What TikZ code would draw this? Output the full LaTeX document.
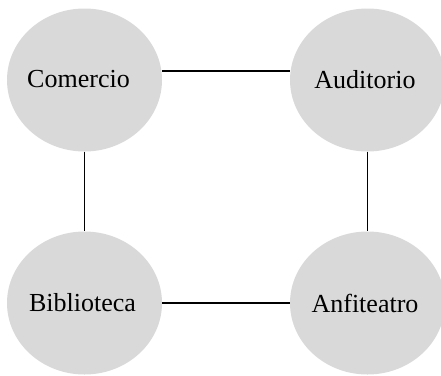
\documentclass[tikz,border=0pt]{standalone}
\usepackage{fontspec}
\setmainfont{Liberation Serif}
\usetikzlibrary{shapes.geometric}
\definecolor{place}{HTML}{D9D9D9}
\tikzset{
  pl/.style={ellipse,fill=place,minimum width=155pt,minimum height=143pt,inner sep=0pt,font=\fontsize{26}{30}\selectfont},
  ln/.style={line width=1.6pt},
}
\begin{document}
\begin{tikzpicture}[x=1pt,y=-1pt]
\useasboundingbox (0,0) rectangle (441,375);
\node[pl] (com) at (84.5,80) {\hspace*{-12pt}\raisebox{2pt}{Comercio}};
\node[pl] (aud) at (367.5,80) {\hspace*{-5pt}\raisebox{2pt}{Auditorio}};
\node[pl] (bib) at (84.5,303) {\hspace*{-4pt}Biblioteca};
\node[pl] (anf) at (367.5,303) {\hspace*{-5pt}\raisebox{-5pt}{Anfiteatro}};
\draw[ln] ([yshift=9pt]com.east) -- ([yshift=9pt]aud.west);
\draw[ln] (bib) -- (anf);
\draw[ln] (com) -- (bib);
\draw[ln] (aud) -- (anf);
\end{tikzpicture}
\end{document}
